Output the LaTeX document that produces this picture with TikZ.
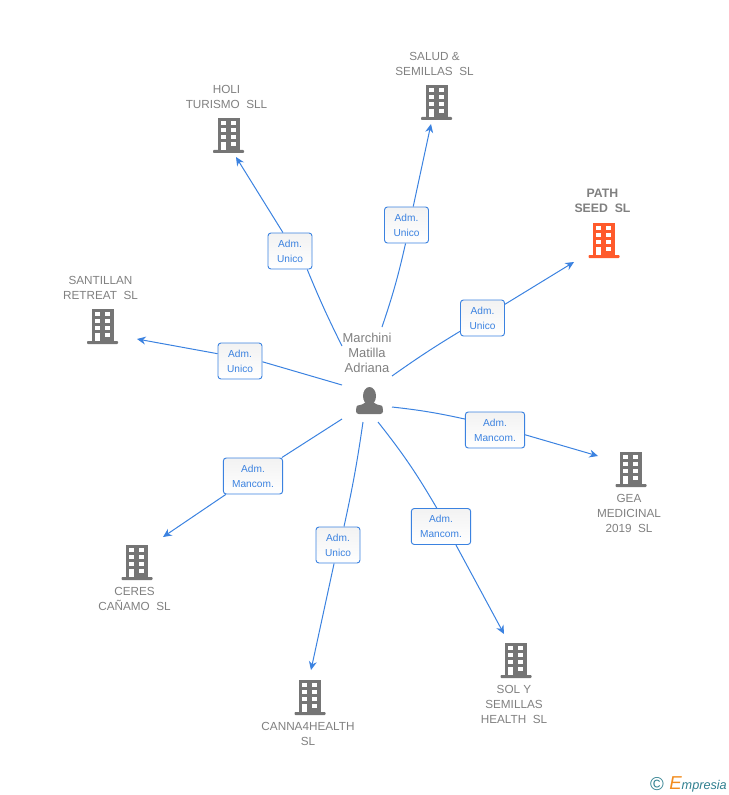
\documentclass[tikz,border=0pt]{standalone}
\usepackage{fontspec}
\setmainfont{Liberation Sans}
\usetikzlibrary{arrows.meta}
\usetikzlibrary{positioning}

\definecolor{linkblue}{HTML}{3B82E0}
\definecolor{icongray}{HTML}{757575}
\definecolor{textgray}{HTML}{808080}
\definecolor{iconred}{HTML}{FF5A2B}
\definecolor{logoteal}{HTML}{2F7F8F}
\definecolor{logoorange}{HTML}{F28C1E}

\tikzset{
  link/.style={draw=linkblue,line width=0.75pt},
  linkend/.style={link,-{Stealth[length=6.5pt,width=6pt]}},
  role/.style={draw=linkblue,line width=0.7pt,rounded corners=2.2pt,top color=black!5,bottom color=white,
    minimum height=27pt,inner sep=0pt,text=linkblue,align=center,
    execute at begin node=\rule{0pt}{7pt},
    font=\fontsize{7.6pt}{11.25pt}\selectfont},
  unico/.style={role,minimum width=33pt},
  mancom/.style={role,minimum width=44.5pt},
  company/.style={text=textgray,align=center,inner sep=0pt,font=\fontsize{8.8pt}{11.25pt}\selectfont},
  pics/building/.style={code={
    \fill[#1] (-11,-17) rectangle (11,16);
    \fill[#1,rounded corners=0.6pt] (-15.5,15) rectangle (15.5,18);
    \fill[white] (-8,-14) rectangle (-3,-10);
    \fill[white] (2,-14) rectangle (7,-10);
    \fill[white] (-8,-7) rectangle (-3,-3);
    \fill[white] (2,-7) rectangle (7,-3);
    \fill[white] (-8,0) rectangle (-3,4);
    \fill[white] (2,0) rectangle (7,4);
    \fill[white] (-8,7) rectangle (-3,15);
    \fill[white] (2,7) rectangle (7,11);
  }}
}

\begin{document}
\begin{tikzpicture}[x=0.75pt,y=-0.75pt]
  \useasboundingbox (0,0) rectangle (728,795);

  % person in the middle
  \node[company,font=\fontsize{9.7pt}{11.25pt}\selectfont] (marchini) at (367,353) {Marchini\\Matilla\\Adriana};
  \fill[icongray] (369.5,396) ellipse (6.5 and 9);
  \fill[icongray,rounded corners=2pt] (356,414) -- (356,409) .. controls (357,405) and (362,405) .. (365,402)
    -- (374,402) .. controls (377,405) and (382,405) .. (383,409) -- (383,414) -- cycle;

  % buildings
  \pic at (228.5,135) {building=icongray};
  \pic at (436.5,102) {building=icongray};
  \pic at (604,240) {building=iconred};
  \pic at (102.5,326) {building=icongray};
  \pic at (631,469) {building=icongray};
  \pic at (516,660) {building=icongray};
  \pic at (310,697) {building=icongray};
  \pic at (137,562) {building=icongray};

  % company names
  \node[company] (holi) at (226.5,97) {HOLI\\TURISMO~~SLL};
  \node[company] (salud) at (434.5,64) {SALUD \&\\SEMILLAS~~SL};
  \node[company,font=\fontsize{9.2pt}{11.25pt}\selectfont\bfseries] (path) at (602.5,201) {PATH\\SEED~~SL};
  \node[company] (santillan) at (100.5,288) {SANTILLAN\\RETREAT~~SL};
  \node[company] (gea) at (629,513.5) {GEA\\MEDICINAL\\2019~~SL};
  \node[company] (sol) at (514,704) {SOL Y\\SEMILLAS\\HEALTH~~SL};
  \node[company] (canna) at (308,734) {CANNA4HEALTH\\SL};
  \node[company] (ceres) at (134.5,598.5) {CERES\\CAÑAMO~~SL};

  % role boxes
  \node[unico] (admholi) at (290,251) {Adm.\\Unico};
  \node[unico] (admsalud) at (406.5,225) {Adm.\\Unico};
  \node[unico] (admpath) at (482.5,318) {Adm.\\Unico};
  \node[unico] (admsantillan) at (240,361) {Adm.\\Unico};
  \node[mancom] (admgea) at (495,430) {Adm.\\Mancom.};
  \node[mancom] (admsol) at (441,526.5) {Adm.\\Mancom.};
  \node[unico] (admcanna) at (338,545) {Adm.\\Unico};
  \node[mancom] (admceres) at (253,476) {Adm.\\Mancom.};

  % ends of the connectors
  \coordinate (holistart) at (342,346);
  \coordinate (saludstart) at (382,327);
  \coordinate (pathstart) at (392,376);
  \coordinate (santillanstart) at (342,385);
  \coordinate (geastart) at (392,407);
  \coordinate (solstart) at (378,422);
  \coordinate (cannastart) at (363,422);
  \coordinate (ceresstart) at (342,419);
  \coordinate (holitip) at (236,157);
  \coordinate (saludtip) at (431,124);
  \coordinate (pathtip) at (574,262);
  \coordinate (santillantip) at (137,339);
  \coordinate (geatip) at (598,456);
  \coordinate (soltip) at (504,634);
  \coordinate (cannatip) at (311,670);
  \coordinate (cerestip) at (163,537);

  % connectors
  \draw[link] (holistart) to[bend left=2] (admholi.-47);
  \draw[linkend] (admholi.111) -- (holitip);
  \draw[link] (saludstart) to[bend right=3] (admsalud.-93);
  \draw[linkend] (admsalud.70) -- (saludtip);
  \draw[link] (pathstart) to[bend left=2] (admpath);
  \draw[linkend] (admpath) -- (pathtip);
  \draw[link] (santillanstart) -- (admsantillan.-2);
  \draw[linkend] (admsantillan.162) -- (santillantip);
  \draw[link] (geastart) to[bend left=3] (admgea.160);
  \draw[linkend] (admgea.-9) -- (geatip);
  \draw[link] (solstart) to[bend left=4] (admsol.103);
  \draw[linkend] (admsol.-51) -- (soltip);
  \draw[link] (cannastart) to[bend left=2] (admcanna.72);
  \draw[linkend] (admcanna.-102) -- (cannatip);
  \draw[link] (ceresstart) -- (admceres);
  \draw[linkend] (admceres) -- (cerestip);

  % logo
  \node[inner sep=0pt,text=logoteal,font=\fontsize{14pt}{14pt}\selectfont] (copyright) at (657,784) {©};
  \node[inner sep=0pt,anchor=base west,text=logoteal,font=\fontsize{9.5pt}{12pt}\selectfont\itshape] (brand) at (669,789)
    {{\fontsize{14pt}{12pt}\selectfont\color{logoorange}E}mpresia};
\end{tikzpicture}
\end{document}
